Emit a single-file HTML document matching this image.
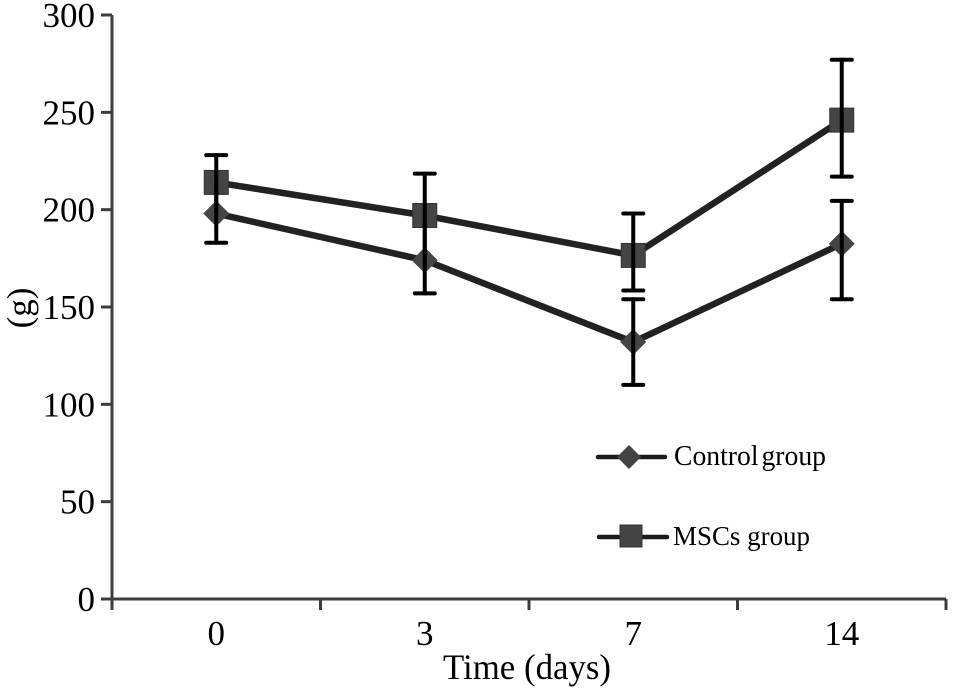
<!DOCTYPE html>
<html lang="en">
<head>
<meta charset="utf-8">
<title>Weight over time</title>
<style>
html,body{margin:0;padding:0;background:#fff;width:954px;height:689px;overflow:hidden}
svg{display:block;filter:blur(0.35px)}
text{font-family:"Liberation Serif",serif;fill:#000}
</style>
</head>
<body>
<svg id="chart" width="954" height="689" viewBox="0 0 954 689" xmlns="http://www.w3.org/2000/svg">
  <rect x="0" y="0" width="954" height="689" fill="#fff"/>
  <g id="axes"></g>
  <g id="series"></g>
  <text x="527" y="679" font-size="36" text-anchor="middle" textLength="168" lengthAdjust="spacingAndGlyphs">Time (days)</text>
  <text transform="translate(31,308) rotate(-90)" font-size="35" text-anchor="middle">(g)</text>
  <g>
    <g>
      <line x1="598" y1="457" x2="665" y2="457" stroke="#1c1c1c" stroke-width="4.5" stroke-linecap="round"/>
      <polygon points="629,445 641,457 629,469 617,457" fill="#444"/>
      <text x="674" y="465" font-size="28" word-spacing="-4" textLength="152" lengthAdjust="spacingAndGlyphs">Control group</text>
    </g>
    <g>
      <line x1="599" y1="537" x2="667" y2="537" stroke="#1c1c1c" stroke-width="4.5" stroke-linecap="round"/>
      <rect x="620" y="525" width="22" height="22" fill="#444" stroke="#333" stroke-width="1"/>
      <text x="673" y="545" font-size="27" textLength="137" lengthAdjust="spacingAndGlyphs">MSCs group</text>
    </g>
  </g>
</svg>
<script>
const categories = ["0", "3", "7", "14"];
const yTickLabels = [0, 50, 100, 150, 200, 250, 300];
const controlValues = [198, 174, 132, 182.5];
const controlUpper = [213, 192, 154, 204.5];
const controlLower = [183, 157, 110, 154];
const mscValues = [214, 197, 176.5, 246];
const mscUpper = [228, 218.5, 198, 277];
const mscLower = [200, 176, 158.5, 217];

const NS = "http://www.w3.org/2000/svg";
const plotLeft = 112, plotRight = 946, plotTop = 15, plotBottom = 599;
const yMax = 300;

function yScale(v) {
  return plotBottom - (v / yMax) * (plotBottom - plotTop);
}
function bandWidth() {
  return (plotRight - plotLeft) / categories.length;
}
function xScale(i) {
  return plotLeft + bandWidth() * (i + 0.5);
}
function make(tag, attrs, parent, text) {
  const el = document.createElementNS(NS, tag);
  for (const k in attrs) el.setAttribute(k, attrs[k]);
  if (text !== undefined) el.textContent = text;
  parent.appendChild(el);
  return el;
}

const axes = document.getElementById("axes");
const seriesLayer = document.getElementById("series");
const axisColor = "#3c3c3c";

const yAxis = make("line", {x1: plotLeft, y1: plotTop, x2: plotLeft, y2: 610, stroke: axisColor, "stroke-width": 3}, axes);



const xAxis = make("line", {x1: plotLeft - 11, y1: plotBottom, x2: plotRight, y2: plotBottom, stroke: axisColor, "stroke-width": 3}, axes);



yTickLabels.forEach(function (v) {
  const y = yScale(v);
  const tick = make("line", {x1: plotLeft - 11, y1: y, x2: plotLeft, y2: y, stroke: axisColor, "stroke-width": 3}, axes);
  
  
  const label = make("text", {x: 95, y: y + 12, "font-size": 35, "text-anchor": "end"}, axes, String(v));
  
  
});

for (let i = 0; i <= categories.length; i++) {
  const x = plotLeft + bandWidth() * i;
  const tick = make("line", {x1: x, y1: plotBottom, x2: x, y2: 610, stroke: axisColor, "stroke-width": 3}, axes);
  
  
}
categories.forEach(function (c, i) {
  const label = make("text", {x: xScale(i), y: 645, "font-size": 35, "text-anchor": "middle"}, axes, c);
  
  
});

function drawLine(values) {
  const pts = values.map(function (v, i) { return xScale(i) + "," + yScale(v); }).join(" ");
  return make("polyline", {points: pts, fill: "none", stroke: "#222", "stroke-width": 6.5, "stroke-linejoin": "round"}, seriesLayer);
}
function drawError(i, hi, lo, capHi, capLo) {
  const x = xScale(i);
  const g = make("g", {stroke: "#000", "stroke-width": 4, "stroke-linecap": "round"}, seriesLayer);
  make("line", {x1: x, y1: yScale(hi), x2: x, y2: yScale(lo)}, g);
  if (capHi) make("line", {x1: x - 10, y1: yScale(hi), x2: x + 10, y2: yScale(hi)}, g);
  if (capLo) make("line", {x1: x - 10, y1: yScale(lo), x2: x + 10, y2: yScale(lo)}, g);
  return g;
}

const controlLine = drawLine(controlValues);



const mscLine = drawLine(mscValues);



controlValues.forEach(function (v, i) {
  const x = xScale(i), y = yScale(v), r = 13;
  const pts = (x) + "," + (y - r) + " " + (x + r) + "," + y + " " + x + "," + (y + r) + " " + (x - r) + "," + y;
  const m = make("polygon", {points: pts, fill: "#454545"}, seriesLayer);
  
  
});
mscValues.forEach(function (v, i) {
  const x = xScale(i), y = yScale(v), s = 24;
  const m = make("rect", {x: x - s / 2, y: y - s / 2, width: s, height: s, fill: "#454545", stroke: "#333", "stroke-width": 1}, seriesLayer);
  
  
});
// Inner caps are omitted where the two groups' error bars overlap, as in the source figure.
controlValues.forEach(function (v, i) {
  const separate = controlUpper[i] < mscLower[i];
  const e = drawError(i, controlUpper[i], controlLower[i], separate, true);
  
  
});
mscValues.forEach(function (v, i) {
  const separate = controlUpper[i] < mscLower[i];
  const e = drawError(i, mscUpper[i], mscLower[i], true, separate);
  
  
});
</script>
</body>
</html>
